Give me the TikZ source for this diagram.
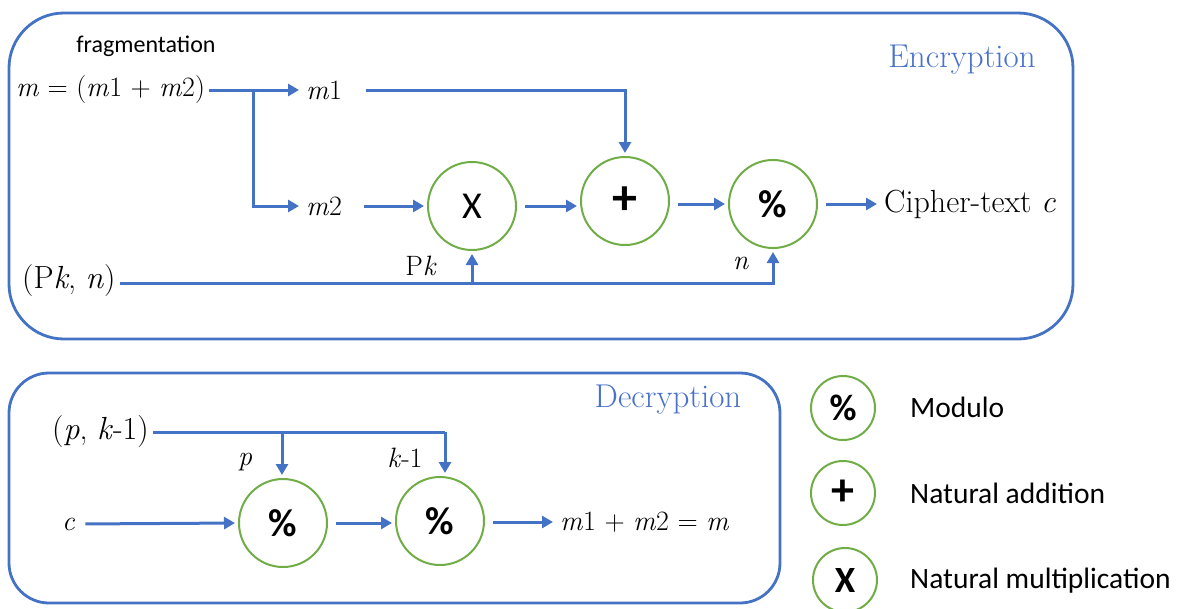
\documentclass[tikz,border=0pt]{standalone}
\usepackage{fontspec}
\newfontfamily\calib{Carlito}
\usetikzlibrary{arrows.meta}
\definecolor{boxblue}{HTML}{4472C4}
\definecolor{titleblue}{HTML}{4A72CC}
\definecolor{opgreen}{HTML}{70AD47}
\begin{document}
\begin{tikzpicture}[x=1pt,y=-1pt,
  frame/.style={draw=boxblue, line width=2.8pt},
  conn/.style={draw=boxblue, line width=3pt},
  arr/.style={conn, -{Triangle[length=11pt,width=12pt]}, shorten >=3pt},
  lbl/.style={font=\fontsize{28}{32}\selectfont, inner sep=4pt},
  big/.style={font=\fontsize{32}{36}\selectfont},
  ttl/.style={font=\fontsize{33}{36}\selectfont, text=titleblue, inner sep=0pt},
  op/.style={circle, draw=opgreen, line width=2pt, minimum size=88pt, inner sep=0pt, font=\calib\fontsize{38}{40}\selectfont},
  bop/.style={op, font=\calib\bfseries\fontsize{39}{40}\selectfont},
  pop/.style={op, font=\calib\bfseries\fontsize{50}{50}\selectfont},
  lop/.style={op, minimum size=64pt, font=\calib\bfseries\fontsize{37}{40}\selectfont},
  lpop/.style={lop, font=\calib\bfseries\fontsize{46}{46}\selectfont},
  leg/.style={font=\calib\fontsize{29.5}{32}\selectfont, anchor=west, inner sep=0pt},
  small/.style={font=\calib\fontsize{24}{28}\selectfont, inner sep=0pt}
]
\useasboundingbox (0,0) rectangle (1181,608);

% frames
\draw[frame, rounded corners=55pt] (9,13) rectangle (1073,339);
\draw[frame, rounded corners=40pt] (9,373) rectangle (780,603);

% ---------- Encryption ----------
\node[ttl] (enc) at (962,60) {Encryption};
\node[small] (frag) at (146,46) {fragmentation};
\node[lbl, anchor=west] (m) at (12,90) {\textit{m} = (\textit{m}1 + \textit{m}2)};
\node[lbl, anchor=west] (m1) at (302,90) {\textit{m}1};
\node[lbl, anchor=west] (m2) at (302,206) {\textit{m}2};
\node[op] (mul) at (472,206) {X};
\node[pop] (add) at (625,201) {+};
\node[bop] (mod) at (773,204) {\%};
\node[lbl, big, anchor=west] (ct) at (880,204) {Cipher-text \textit{c}};
\node[lbl, big, anchor=west] (pk) at (18,281) {(P\textit{k}, \textit{n})};
\node[lbl] (pklbl) at (421,266) {P\textit{k}};
\node[lbl] (nlbl) at (741,263) {\textit{n}};
\coordinate (split) at (253,90);

\draw[conn] (m.east) -- (split);
\draw[arr] (split) -- (m1.west);
\draw[arr] (split) |- (m2.west);
\draw[arr, shorten <=20pt] (m1.east) -| (add.north);
\draw[arr, shorten <=18pt] (m2.east) -- (mul.west);
\draw[arr, shorten <=8pt] (mul.east) -- (add.west |- mul.east);
\draw[arr, shorten <=8pt] (add.east |- mod.west) -- (mod.west);
\draw[arr, shorten <=8pt] (mod.east) -- (ct.west);
\draw[arr] (pk.east |- 0,283) -| (mod.south);
\draw[arr] (mul.south |- 0,283) -- (mul.south);

% ---------- Decryption ----------
\node[ttl] (dec) at (668,400) {Decryption};
\node[lbl, big, anchor=west] (pkm) at (48,432) {(\textit{p}, \textit{k}-1)};
\node[lbl] (plbl) at (245,462) {\textit{p}};
\node[lbl] (klbl) at (405,458) {\textit{k}-1};
\node[lbl, anchor=west] (c) at (58,524) {\textit{c}};
\node[bop] (d1) at (283,523) {\%};
\node[bop] (d2) at (440,521) {\%};
\node[lbl, anchor=west] (res) at (556,522) {\textit{m}1 + \textit{m}2 = \textit{m}};
\coordinate (j1) at (282,432);
\coordinate (j2) at (445,432);

\draw[conn] (pkm.east) -- (j2);
\draw[arr] (j1) -- (j1 |- d1.north);
\draw[arr] (j2) -- (j2 |- d2.north);
\draw[arr, shorten <=6pt] (c.east) -- (d1.west);
\draw[arr, shorten <=8pt] (d1.east) -- (d2.west |- d1.east);
\draw[arr, shorten <=8pt] (d2.east |- res.west) -- (res.west);

% ---------- Legend ----------
\node[lop] (lmod) at (843,408) {\%};
\node[lpop] (ladd) at (843,493) {+};
\node[lop] (lmul) at (845,580) {X};
\node[leg] (tmod) at (910,407) {Modulo};
\node[leg] (tadd) at (910,493) {Natural addition};
\node[leg] (tmul) at (910,581) {Natural multiplication};
\end{tikzpicture}
\end{document}
